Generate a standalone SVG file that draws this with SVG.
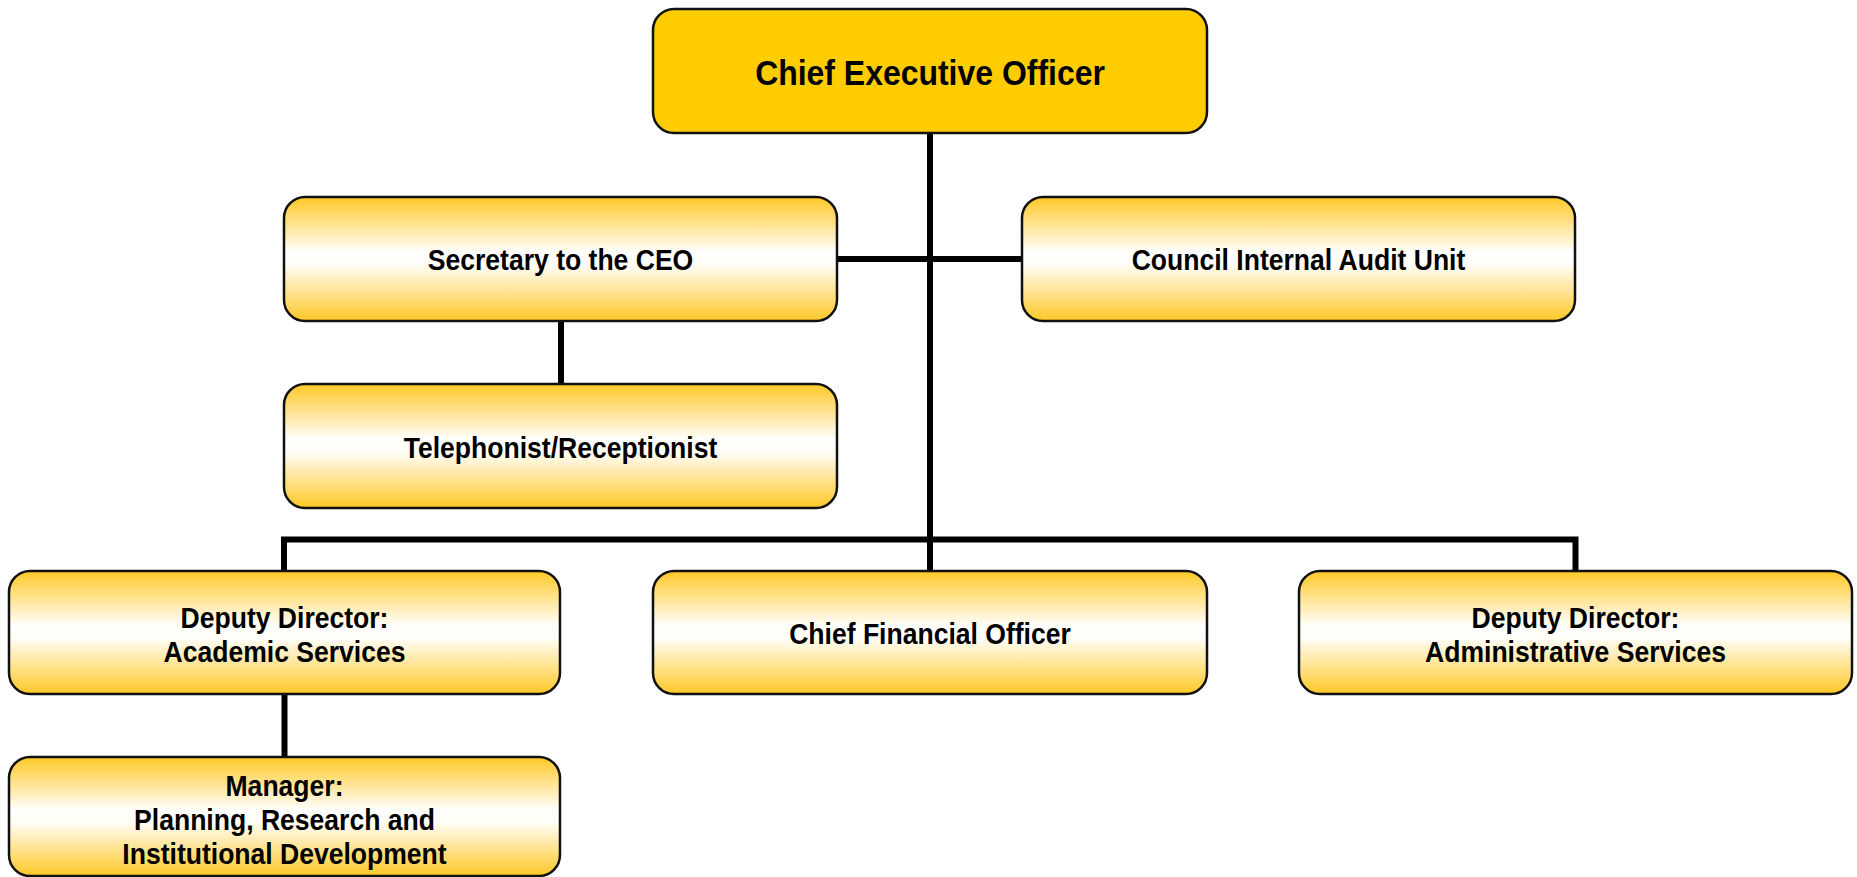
<svg xmlns="http://www.w3.org/2000/svg" width="1857" height="877" viewBox="0 0 1857 877">
<style>
.box{fill:url(#g);stroke:#111;stroke-width:2.5}
.ceo{fill:#FFCC00;stroke:#111;stroke-width:2.5}
.t{font-family:"Liberation Sans",Arial,sans-serif;font-weight:bold;font-size:29.5px;fill:#000;text-anchor:middle}
.tc{font-size:35.5px}
.c{fill:none;stroke:#000;stroke-width:6;stroke-linejoin:miter}
</style>
<defs>
<linearGradient id="g" x1="0" y1="0" x2="0" y2="1">
<stop offset="0" stop-color="#FFC826"/>
<stop offset="0.45" stop-color="#FFFFFF"/>
<stop offset="0.55" stop-color="#FFFDF6"/>
<stop offset="1" stop-color="#FFC826"/>
</linearGradient>
</defs>
<rect width="1857" height="877" fill="#fff"/>
<g id="connectors">
<path class="c" d="M930,133 V571"/>
<path class="c" d="M837,259 H1022"/>
<path class="c" d="M561,321 V384"/>
<path class="c" d="M284,571 V539.5 H1575.5 V571"/>
<path class="c" d="M284.5,694 V757"/>
</g>
<g id="ceo">
<rect class="ceo" x="653" y="9" width="554" height="124" rx="21"/>
<text class="t tc" transform="translate(930,0) scale(0.9,1)" x="0" y="85">Chief Executive Officer</text>
</g>
<g id="secretary">
<rect class="box" x="284" y="197" width="553" height="124" rx="21"/>
<text class="t" transform="translate(560.5,0) scale(0.9,1)" x="0" y="270">Secretary to the CEO</text>
</g>
<g id="audit">
<rect class="box" x="1022" y="197" width="553" height="124" rx="21"/>
<text class="t" transform="translate(1298.5,0) scale(0.9,1)" x="0" y="270">Council Internal Audit Unit</text>
</g>
<g id="telephonist">
<rect class="box" x="284" y="384" width="553" height="124" rx="21"/>
<text class="t" transform="translate(560.5,0) scale(0.9,1)" x="0" y="458">Telephonist/Receptionist</text>
</g>
<g id="dd-academic">
<rect class="box" x="9" y="571" width="551" height="123" rx="21"/>
<text class="t" transform="translate(284.5,0) scale(0.9,1)" x="0" y="628">Deputy Director:</text>
<text class="t" transform="translate(284.5,0) scale(0.9,1)" x="0" y="662">Academic Services</text>
</g>
<g id="cfo">
<rect class="box" x="653" y="571" width="554" height="123" rx="21"/>
<text class="t" transform="translate(930,0) scale(0.9,1)" x="0" y="644">Chief Financial Officer</text>
</g>
<g id="dd-admin">
<rect class="box" x="1299" y="571" width="553" height="123" rx="21"/>
<text class="t" transform="translate(1575.5,0) scale(0.9,1)" x="0" y="628">Deputy Director:</text>
<text class="t" transform="translate(1575.5,0) scale(0.9,1)" x="0" y="662">Administrative Services</text>
</g>
<g id="manager">
<rect class="box" x="9" y="757" width="551" height="119" rx="21"/>
<text class="t" transform="translate(284.5,0) scale(0.9,1)" x="0" y="796">Manager:</text>
<text class="t" transform="translate(284.5,0) scale(0.9,1)" x="0" y="830">Planning, Research and</text>
<text class="t" transform="translate(284.5,0) scale(0.9,1)" x="0" y="864">Institutional Development</text>
</g>
</svg>
